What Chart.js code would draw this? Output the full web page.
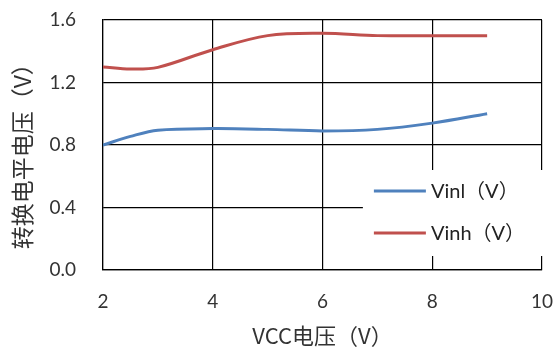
<!DOCTYPE html>
<html>
<head>
<meta charset="utf-8">
<script src="https://cdn.jsdelivr.net/npm/chart.js@4/dist/chart.umd.min.js"></script>
<style>
  html, body { margin: 0; padding: 0; background: #ffffff; }
  #wrap { width: 558px; height: 352px; position: relative; }
</style>
</head>
<body>
<div id="wrap"><canvas id="c" width="558" height="352"></canvas></div>
<script>
// VCC supply voltage (V)
const vcc = [2, 2.5, 3, 4, 5, 6, 7, 8, 9];
// Input threshold voltages (V)
const vinl = [0.80, 0.855, 0.895, 0.905, 0.90, 0.89, 0.90, 0.94, 1.00];
const vinh = [1.30, 1.286, 1.297, 1.41, 1.50, 1.515, 1.50, 1.50, 1.50];
const seriesLabels = ['Vinl（V）', 'Vinh（V）'];
const xTicks = [2, 4, 6, 8, 10];
const yTicks = [0.0, 0.4, 0.8, 1.2, 1.6];

const LATIN = "Lato, 'Noto Sans CJK SC', sans-serif";
const CJK = "'Noto Sans CJK SC', Lato, sans-serif";

// Legend drawn as a white box inside the plot area
const boxLegend = {
  id: 'boxLegend',
  afterDraw(chart) {
    const ctx = chart.ctx;
    const area = chart.chartArea;
    const x0 = area.left + (area.right - area.left) * 0.592;
    const y0 = area.top + (area.bottom - area.top) * 0.6;
    ctx.save();
    ctx.fillStyle = '#ffffff';
    ctx.fillRect(x0, y0, area.right + 8 - x0, area.bottom - 14 - y0);
    ctx.font = '20px ' + LATIN;
    ctx.textBaseline = 'middle';
    ctx.textAlign = 'left';
    chart.data.datasets.forEach((ds, i) => {
      const y = y0 + 21 + i * 42;
      ctx.strokeStyle = ds.borderColor;
      ctx.lineWidth = 3;
      ctx.beginPath();
      ctx.moveTo(x0 + 11, y);
      ctx.lineTo(x0 + 63, y);
      ctx.stroke();
      ctx.fillStyle = '#222222';
      ctx.fillText(ds.label, x0 + 68, y + 1);
    });
    ctx.restore();
  }
};

new Chart(document.getElementById('c'), {
  type: 'line',
  data: {
    datasets: [
      {
        label: seriesLabels[0],
        data: vcc.map((v, i) => ({ x: v, y: vinl[i] })),
        borderColor: '#4F81BD',
        borderWidth: 3,
        pointRadius: 0,
        tension: 0.35,
        fill: false
      },
      {
        label: seriesLabels[1],
        data: vcc.map((v, i) => ({ x: v, y: vinh[i] })),
        borderColor: '#C0504D',
        borderWidth: 3,
        pointRadius: 0,
        tension: 0.35,
        fill: false
      }
    ]
  },
  options: {
    responsive: false,
    animation: false,
    devicePixelRatio: 1,
    layout: { padding: { left: 0, top: 20, right: 16, bottom: 0 } },
    plugins: { legend: { display: false }, tooltip: { enabled: false } },
    scales: {
      x: {
        type: 'linear',
        min: 2,
        max: 10,
        afterBuildTicks: (s) => { s.ticks = xTicks.map(v => ({ value: v })); },
        afterFit: (s) => { s.height = 82; },
        grid: { color: '#000000', lineWidth: 1.2, drawTicks: true, tickLength: 20, tickColor: 'rgba(0,0,0,0)' },
        border: { color: '#000000', width: 1.2 },
        ticks: {
          color: '#333333',
          font: { family: LATIN, size: 19 },
          padding: 0,
          callback: (v) => String(v)
        },
        title: {
          display: true,
          text: 'VCC电压（V）',
          color: '#333333',
          font: { family: CJK, size: 22 },
          padding: { top: 0, bottom: 3 }
        }
      },
      y: {
        type: 'linear',
        min: 0,
        max: 1.6,
        afterBuildTicks: (s) => { s.ticks = yTicks.map(v => ({ value: v })); },
        afterFit: (s) => { s.width = 103; },
        grid: { color: '#000000', lineWidth: 1.2, drawTicks: true, tickLength: 27, tickColor: 'rgba(0,0,0,0)' },
        border: { color: '#000000', width: 1.2 },
        ticks: {
          color: '#333333',
          font: { family: LATIN, size: 19 },
          padding: 0,
          callback: (v) => Number(v).toFixed(1)
        },
        title: {
          display: true,
          text: '转换电平电压（V）\u2002',
          color: '#333333',
          font: { family: CJK, size: 23 },
          padding: { top: 8, bottom: 0 }
        }
      }
    }
  },
  plugins: [boxLegend]
});
</script>
</body>
</html>
